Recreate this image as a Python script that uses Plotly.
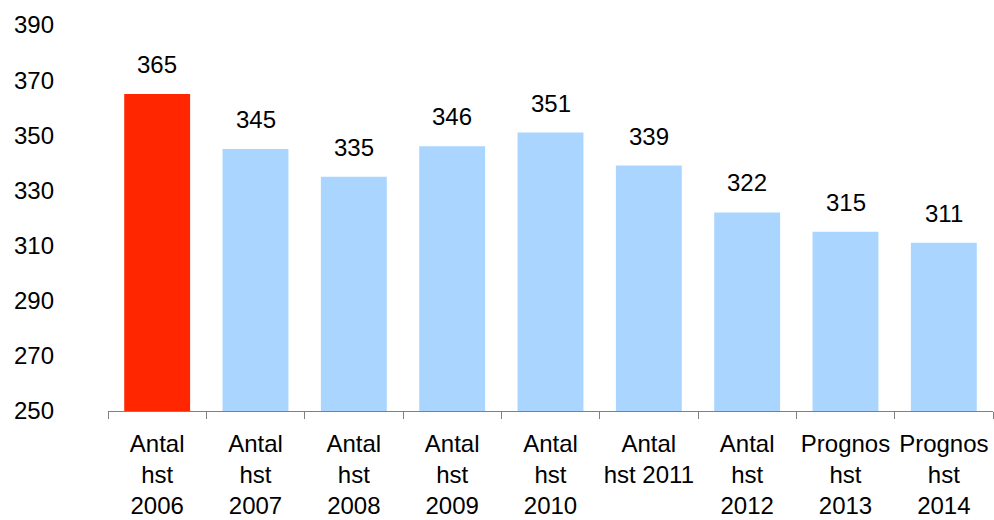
import plotly.graph_objects as go

categories = ["Antal<br>hst<br>2006", "Antal<br>hst<br>2007", "Antal<br>hst<br>2008",
              "Antal<br>hst<br>2009", "Antal<br>hst<br>2010", "Antal<br>hst 2011",
              "Antal<br>hst<br>2012", "Prognos<br>hst<br>2013", "Prognos<br>hst<br>2014"]
values = [365, 345, 335, 346, 351, 339, 322, 315, 311]
colors = ["#FF2600"] + ["#A9D5FF"] * 8
y_ticks = [250, 270, 290, 310, 330, 350, 370, 390]

font = dict(family="Liberation Sans, Arial, sans-serif", size=24, color="#000000")

fig = go.Figure(go.Bar(x=categories, y=values, marker=dict(color=colors, line=dict(width=0)),
                       hoverinfo="skip", cliponaxis=False))

for c, v in zip(categories, values):
    fig.add_annotation(x=c, y=v, text=str(v), showarrow=False, yanchor="bottom",
                       yshift=14, font=font)

fig.update_layout(
    width=994, height=520,
    margin=dict(l=108, r=1, t=25, b=109, autoexpand=False),
    plot_bgcolor="white", paper_bgcolor="white",
    bargap=0.33, showlegend=False, font=font,
)
fig.update_xaxes(showline=True, linecolor="#808080", linewidth=1, automargin=False,
                 ticks="outside", tickson="boundaries", ticklen=7, tickcolor="#808080",
                 showgrid=False, tickfont=font, tickangle=0, ticklabelstandoff=11)
fig.update_yaxes(range=[250, 390], tickvals=y_ticks, showgrid=False, zeroline=False,
                 automargin=False,
                 showline=False, ticks="", tickfont=font, ticklabelstandoff=53)

fig.write_html("out.html", config={"displayModeBar": False},
               post_script="document.body.style.margin='0';document.body.style.overflow='hidden';")
